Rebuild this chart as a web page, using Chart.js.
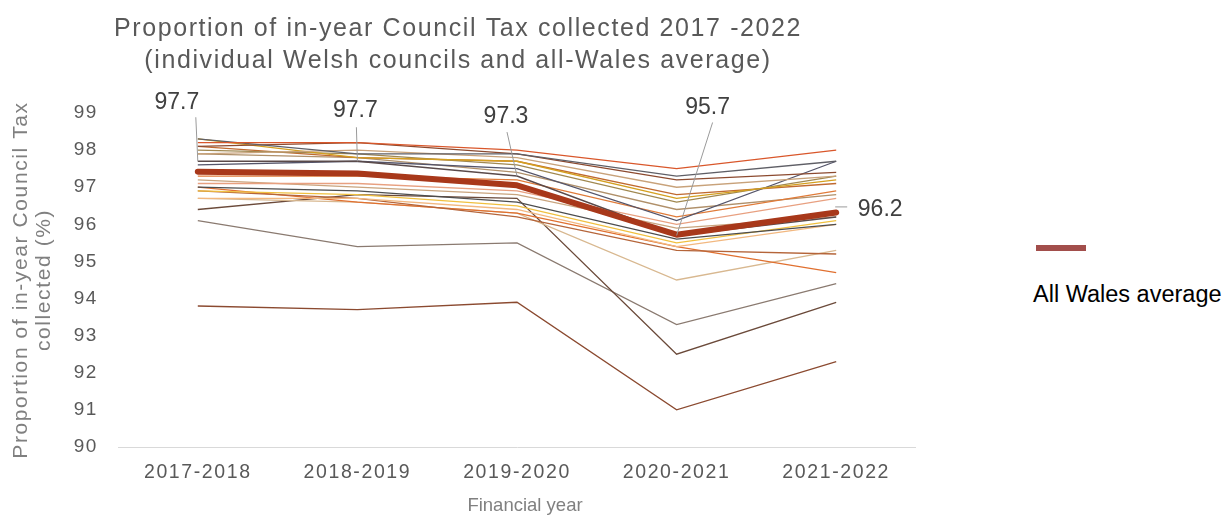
<!DOCTYPE html>
<html>
<head>
<meta charset="utf-8">
<title>Council Tax collection 2017-2022</title>
<script src="https://cdn.jsdelivr.net/npm/chart.js@4.4.0/dist/chart.umd.min.js"></script>
<style>
  html, body { margin: 0; padding: 0; background: #fff; }
  #wrap { position: relative; width: 1230px; height: 523px; }
  #plot { position: absolute; left: 0; top: 0; width: 916px; height: 523px; }
  #key { position: absolute; left: 1033px; top: 245px; font-family: 'Liberation Sans', Arial, sans-serif; color: #000; }
  #key .swatch { width: 50px; height: 6px; background: #a24e4b; margin-left: 3px; }
  #key .name { font-size: 23.5px; margin-top: 30px; white-space: nowrap; }
</style>
</head>
<body>
<div id="wrap">
  <div id="plot"><canvas id="chart"></canvas></div>
  <div id="key">
    <div class="swatch"></div>
    <div class="name">All Wales average</div>
  </div>
</div>
<script>
const years = ['2017-2018', '2018-2019', '2019-2020', '2020-2021', '2021-2022'];
const yMin = 90;
const yMax = 99;

// all-Wales average (bold line) and the labelled average values
const averageLine = [97.42, 97.37, 97.05, 95.72, 96.32];
const averageLabelled = [97.7, 97.7, 97.3, 95.7, 96.2];

// individual councils
const council01 = [98.2, 98.2, 98.0, 97.5, 98.0];
const council02 = [98.3, 97.9, 97.9, 97.3, 97.7];
const council03 = [98.1, 98.2, 97.9, 97.2, 97.4];
const council04 = [97.9, 98.0, 97.8, 97.0, 97.3];
const council05 = [98.3, 97.8, 97.7, 96.7, 97.2];
const council06 = [98.0, 97.9, 97.6, 96.6, 97.3];
const council07 = [97.6, 97.7, 97.5, 96.1, 97.7];
const council08 = [97.3, 97.3, 97.2, 96.2, 96.9];
const council09 = [97.1, 97.1, 96.9, 96.0, 96.7];
const council10 = [97.2, 97.0, 96.8, 95.9, 96.2];
const council11 = [97.0, 96.9, 96.6, 95.6, 96.0];
const council12 = [96.9, 96.8, 96.5, 95.5, 96.1];
const council13 = [96.7, 96.7, 96.4, 95.4, 96.0];
const council14 = [96.9, 96.7, 96.2, 95.3, 95.2];
const council15 = [97.0, 96.6, 96.3, 95.4, 94.7];
const council16 = [96.7, 96.6, 96.3, 94.5, 95.3];
const council17 = [96.4, 96.8, 96.7, 92.5, 93.9];
const council18 = [96.1, 95.4, 95.5, 93.3, 94.4];
const council19 = [93.8, 93.7, 93.9, 91.0, 92.3];
const council20 = [98.1, 97.8, 97.7, 96.8, 97.1];
const council21 = [97.9, 97.8, 97.4, 96.4, 96.8];

const councils = [council01, council02, council03, council04, council05, council06, council07,
  council08, council09, council10, council11, council12, council13, council14, council15,
  council16, council17, council18, council19, council20, council21];
const councilColours = ['#d9572b', '#5f5f66', '#8c4a2f', '#c8a27a', '#d4a020', '#a08850', '#55556a',
  '#e07b39', '#e8a080', '#c9a47e', '#4d4d4d', '#f0c040', '#f2b880', '#b5653a', '#e07030',
  '#d8b890', '#6b4a3a', '#8a7a70', '#8b4a30', '#c06a30', '#b0906a'];

// label placement around each labelled point: text centre and leader line start (px)
const labelOffsets = [
  { tx: -21, ty: -59, lx: -2, ly: -44 },
  { tx: -2, ty: -51, lx: -1, ly: -34 },
  { tx: -11, ty: -59, lx: -10, ly: -44 },
  { tx: 31, ty: -128, lx: 36, ly: -113 },
  { tx: 44, ty: -7, lx: 11, ly: -10, flat: true }
];

const FONT = "'Liberation Sans', Arial, sans-serif";

// the chart text is drawn slightly spaced out
const spacedText = {
  id: 'spacedText',
  beforeDraw(chart) { chart.ctx.letterSpacing = '1.6px'; },
  afterDraw(chart) {
    const ctx = chart.ctx;
    const area = chart.chartArea;
    // x axis caption, unspaced
    ctx.save();
    ctx.letterSpacing = '0px';
    ctx.font = '18.5px ' + FONT;
    ctx.fillStyle = '#808080';
    ctx.textAlign = 'center';
    ctx.textBaseline = 'middle';
    ctx.fillText('Financial year', (area.left + area.right) / 2 + 8, 506);
    ctx.restore();
    ctx.letterSpacing = '0px';
  }
};

const valueLabels = {
  id: 'valueLabels',
  afterDatasetsDraw(chart) {
    const meta = chart.getDatasetMeta(1);
    const ctx = chart.ctx;
    ctx.save();
    ctx.letterSpacing = '0px';
    ctx.font = '23px ' + FONT;
    ctx.fillStyle = '#404040';
    ctx.strokeStyle = '#9a9a9a';
    ctx.lineWidth = 1;
    ctx.textAlign = 'center';
    ctx.textBaseline = 'middle';
    meta.data.forEach((pt, i) => {
      const o = labelOffsets[i];
      ctx.beginPath();
      ctx.moveTo(pt.x + o.lx, pt.y + o.ly);
      if (o.flat) {
        ctx.lineTo(pt.x - 1, pt.y + o.ly);
      } else {
        ctx.lineTo(pt.x, pt.y);
      }
      ctx.stroke();
      ctx.fillText(averageLabelled[i].toFixed(1), pt.x + o.tx, pt.y + o.ty);
    });
    ctx.restore();
  }
};

const datasets = [
  {
    label: 'All Wales average',
    data: averageLine,
    borderColor: '#a8381a',
    borderWidth: 6,
    borderCapStyle: 'round',
    borderJoinStyle: 'round'
  },
  {
    label: 'average (labelled)',
    data: averageLabelled,
    borderColor: '#5a4a4a',
    borderWidth: 1.5
  }
];
councils.forEach((vals, i) => {
  datasets.push({
    label: 'Council ' + (i + 1),
    data: vals,
    borderColor: councilColours[i],
    borderWidth: 1.3
  });
});

new Chart(document.getElementById('chart'), {
  type: 'line',
  data: { labels: years, datasets: datasets },
  options: {
    responsive: true,
    maintainAspectRatio: false,
    animation: false,
    elements: {
      point: { radius: 0, hoverRadius: 0 },
      line: { tension: 0 }
    },
    layout: { padding: 0 },
    scales: {
      x: {
        offset: true,
        grid: { display: false, drawTicks: false },
        border: { color: '#d9d9d9', width: 1 },
        ticks: { color: '#595959', font: { family: FONT, size: 19.5 }, padding: 14 },
        afterFit(scale) { scale.height = 76; }
      },
      y: {
        min: yMin,
        max: yMax,
        grid: { display: false, drawTicks: false },
        border: { display: false },
        ticks: { stepSize: 1, color: '#595959', font: { family: FONT, size: 19 }, padding: 20 },
        title: {
          display: true,
          text: ['Proportion of in-year Council Tax', 'collected (%)'],
          color: '#808080',
          font: { family: FONT, size: 21, lineHeight: 1.1 },
          padding: { top: 10, bottom: 0 }
        },
        afterFit(scale) { scale.width = 118; }
      }
    },
    plugins: {
      legend: { display: false },
      tooltip: { enabled: false },
      title: {
        display: true,
        text: ['Proportion of in-year Council Tax collected 2017 -2022',
               '(individual Welsh councils and all-Wales average)'],
        color: '#595959',
        font: { family: FONT, size: 25, weight: 'normal', lineHeight: 1.28 },
        padding: { top: 13, bottom: 36 }
      }
    }
  },
  plugins: [spacedText, valueLabels]
});
</script>
</body>
</html>
